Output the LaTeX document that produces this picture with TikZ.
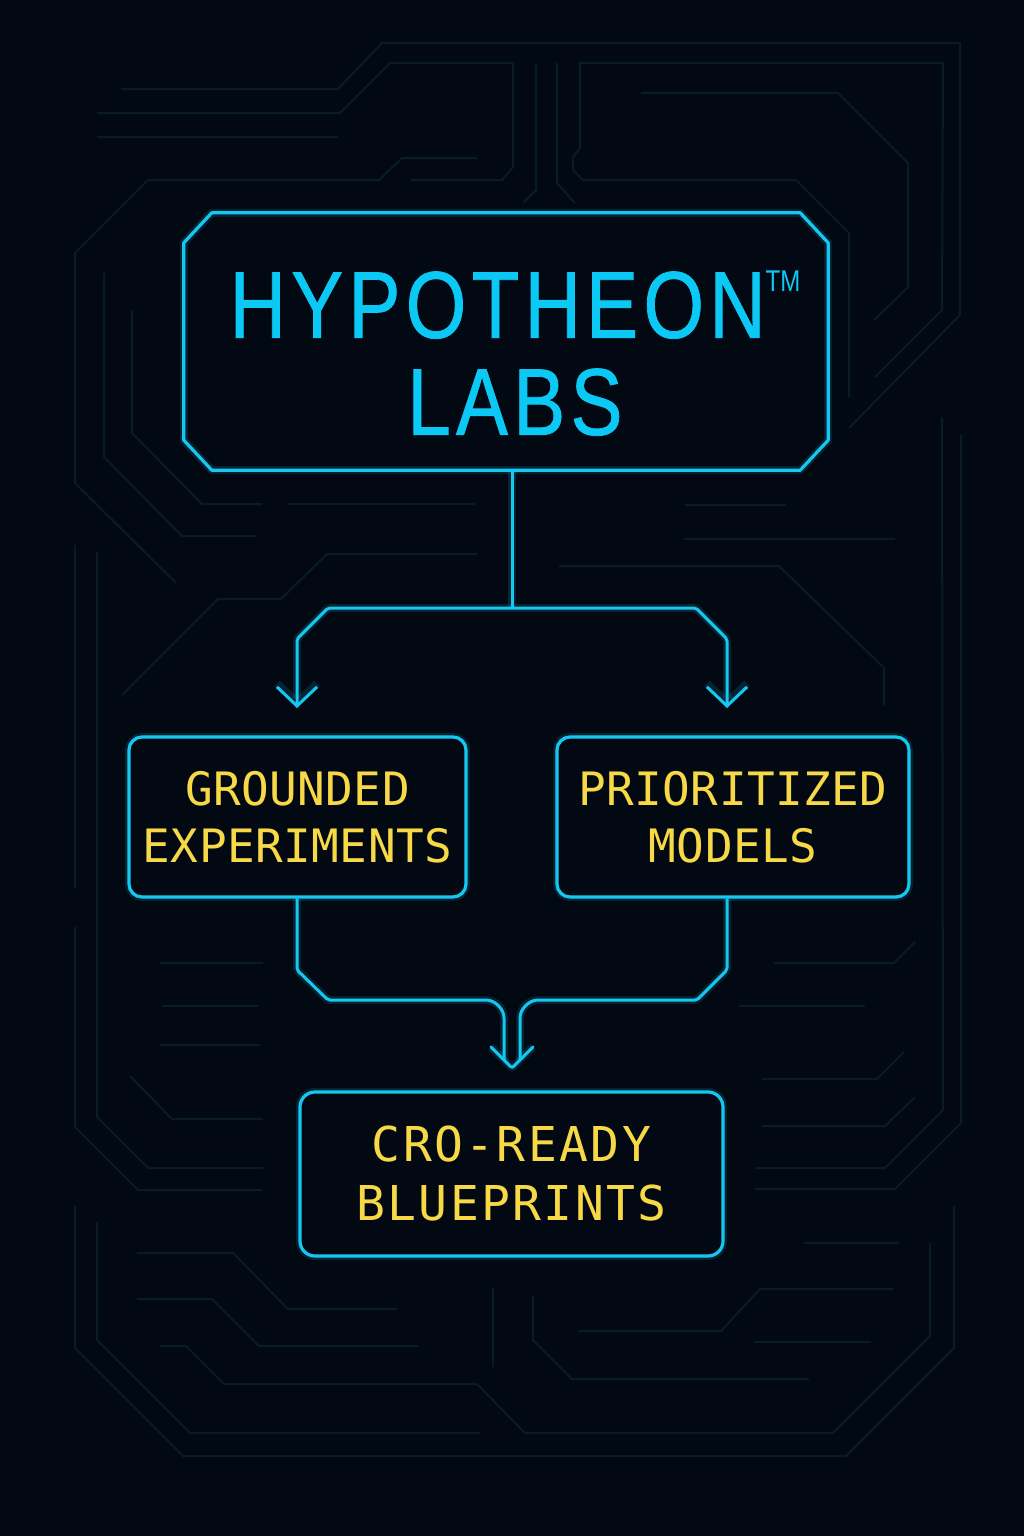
\documentclass[tikz,border=0pt]{standalone}
\usepackage{fontspec}
\usetikzlibrary{calc,arrows.meta}
\newfontfamily\titlefont[FakeStretch=0.82,LetterSpace=5.6,FakeBold=0.8]{Liberation Sans}
\newfontfamily\tmfont[FakeStretch=0.8]{Liberation Sans}
\newfontfamily\monofont[LetterSpace=1]{DejaVu Sans Mono}
\newfontfamily\monowide[LetterSpace=5]{DejaVu Sans Mono}
\definecolor{bgc}{RGB}{2,9,19}
\definecolor{tracec}{RGB}{10,27,40}
\definecolor{cyanc}{RGB}{22,200,240}
\definecolor{titlec}{RGB}{12,200,245}
\definecolor{yellowc}{RGB}{247,216,70}
\tikzset{
  trace/.style={draw=tracec, line width=2pt},
  glow/.style={preaction={draw=cyanc, line width=8pt, draw opacity=0.14}},
  frame/.style={draw=cyanc, line width=3.2pt, glow, line join=round},
  conn/.style={draw=cyanc, line width=3pt, glow, line join=round, rounded corners=2pt},
  rbox/.style={draw=cyanc, line width=3.2pt, rounded corners=13pt, glow, fill=bgc,
    text=yellowc, align=center, inner sep=0pt},
  midtext/.style={font=\monofont\fontsize{46}{57}\selectfont},
  bottext/.style={font=\monowide\fontsize{48}{59}\selectfont},
  tip/.style={-{Straight Barb[length=19pt,width=40pt]}}
}
\begin{document}
\begin{tikzpicture}[x=1pt,y=-1pt]
\fill[bgc] (0,0) rectangle (1024,1536);
\useasboundingbox (0,0) rectangle (1024,1536);
% background circuit traces
\draw[trace] (121,89) -- (338,89) -- (382,43) -- (960,43) -- (960,315) -- (849,428);
\draw[trace] (97,113) -- (340,113) -- (390,63) -- (513,63) -- (513,167) -- (502,180) -- (411,180);
\draw[trace] (97,137) -- (338,137);
\draw[trace] (477,158) -- (402,158) -- (379,180) -- (148,180) -- (75,253) -- (75,483) -- (176,583);
\draw[trace] (536,63) -- (536,190) -- (523,203);
\draw[trace] (557,63) -- (557,183) -- (575,203);
\draw[trace] (875,377) -- (942,310) -- (943,63) -- (580,63) -- (580,148) -- (573,157) -- (573,170) -- (583,180) -- (796,180) -- (849,233) -- (849,397);
\draw[trace] (641,93) -- (838,93) -- (908,163) -- (908,287) -- (895,300) -- (874,320);
\draw[trace] (104,273) -- (104,457) -- (182,536) -- (256,536);
\draw[trace] (132,310) -- (132,433) -- (202,504) -- (262,504);
\draw[trace] (288,504) -- (475,504);
\draw[trace] (477,554) -- (327,554) -- (281,599) -- (218,599) -- (122,695);
\draw[trace] (75,545) -- (75,888);
\draw[trace] (97,552) -- (97,1117) -- (148,1168) -- (263,1168);
\draw[trace] (75,927) -- (75,1127) -- (138,1190) -- (262,1190);
\draw[trace] (160,963) -- (263,963);
\draw[trace] (162,1006) -- (258,1006);
\draw[trace] (160,1045) -- (260,1045);
\draw[trace] (130,1076) -- (172,1119) -- (263,1119);
\draw[trace] (942,417) -- (943,1110) -- (885,1168) -- (755,1168);
\draw[trace] (961,435) -- (961,1123) -- (895,1189) -- (755,1189);
\draw[trace] (685,505) -- (786,505);
\draw[trace] (684,539) -- (895,539);
\draw[trace] (559,566) -- (779,566) -- (884,668) -- (884,705);
\draw[trace] (774,963) -- (894,963) -- (915,942);
\draw[trace] (739,1006) -- (865,1006);
\draw[trace] (762,1079) -- (877,1079) -- (904,1052);
\draw[trace] (762,1126) -- (885,1126) -- (915,1097);
\draw[trace] (75,1206) -- (75,1348) -- (183,1456) -- (846,1456) -- (954,1348) -- (954,1206);
\draw[trace] (97,1222) -- (97,1340) -- (190,1433) -- (480,1433);
\draw[trace] (930,1243) -- (930,1336) -- (833,1433) -- (525,1433) -- (477,1384) -- (224,1384) -- (186,1346) -- (160,1346);
\draw[trace] (137,1253) -- (233,1253) -- (288,1309) -- (397,1309);
\draw[trace] (137,1299) -- (212,1299) -- (259,1346) -- (418,1346);
\draw[trace] (493,1288) -- (493,1367);
\draw[trace] (533,1296) -- (533,1340) -- (572,1379) -- (809,1379);
\draw[trace] (578,1331) -- (721,1331) -- (760,1289) -- (893,1289);
\draw[trace] (754,1342) -- (871,1342);
\draw[trace] (804,1243) -- (899,1243);

% top chamfered frame
\node[inner sep=0pt, minimum width=644pt, minimum height=257pt] (top) at (506,341.5) {};
\draw[frame] ($(top.north west)+(28,0)$) -- ($(top.north east)+(-28,0)$)
  -- ($(top.north east)+(0,30)$) -- ($(top.south east)+(0,-30)$)
  -- ($(top.south east)+(-28,0)$) -- ($(top.south west)+(28,0)$)
  -- ($(top.south west)+(0,-30)$) -- ($(top.north west)+(0,30)$) -- cycle;
\node[text=titlec, align=center, inner sep=0pt,
  font=\titlefont\fontsize{95}{97}\selectfont] (ttl) at (515,353.5)
  {HYPOTHEON\raisebox{46pt}{\tmfont\fontsize{30}{30}\selectfont TM}\\LABS};

% boxes
\node[rbox, midtext, minimum width=337pt, minimum height=160pt] (ge) at (297.5,817) {GROUNDED\\EXPERIMENTS};
\node[rbox, midtext, minimum width=352pt, minimum height=160pt] (pm) at (733,817) {PRIORITIZED\\MODELS};
\node[rbox, bottext, minimum width=423pt, minimum height=164pt, rounded corners=15pt] (cro) at (511.5,1174) {CRO-READY\\BLUEPRINTS};

% connectors
\coordinate (j) at (512,608);
\coordinate (al) at (297,708);
\coordinate (ar) at (727,708);
\draw[conn] (top.south -| j) -- (j);
\draw[conn, tip] (j) -- (328,608) -- (297,639) -- (al);
\draw[conn, tip] (j) -- (696,608) -- (727,639) -- (ar);

\coordinate (bt) at (512,1068);
\draw[conn] (ge.south -| al) -- (297,970) -- (328,1000) -- (484,1000)
  .. controls (495,1000) and (504,1009) .. (504,1020) -- (504,1060);
\draw[conn] (pm.south -| ar) -- (727,970) -- (697,1000) -- (540,1000)
  .. controls (529,1000) and (520,1009) .. (520,1020) -- (520,1060);
\draw[conn, line cap=round] ($(bt)+(-21,-21)$) -- (bt) -- ($(bt)+(21,-21)$);
\end{tikzpicture}
\end{document}
